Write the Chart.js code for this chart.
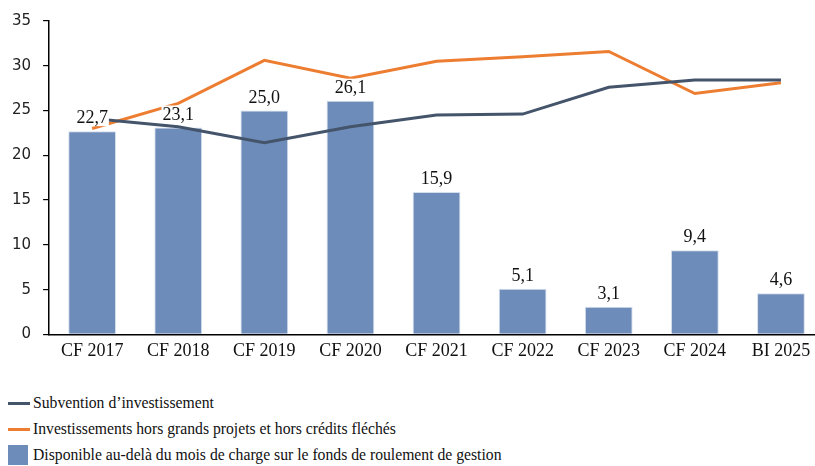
<!DOCTYPE html>
<html>
<head>
<meta charset="utf-8">
<script src="https://cdn.jsdelivr.net/npm/chart.js@4"></script>
<style>
  html, body { margin: 0; padding: 0; background: #fff; overflow: hidden; }
  #wrap { position: relative; width: 826px; height: 360px; }
  #legend { position: absolute; left: 8px; top: 390px; font-family: 'Liberation Serif', serif; font-size: 15.7px; color: #111; }
  .leg-item { display: flex; align-items: center; height: 26px; }
  .leg-line { width: 22px; height: 3px; margin-right: 3px; }
  .leg-box { width: 20px; height: 20px; margin-right: 5px; }
</style>
</head>
<body>
<div id="wrap"><canvas id="chart"></canvas></div>
<div id="legend"></div>
<script>
/* Subvention / investissements / disponible FRG — 2017 à 2025 */

const categories  = ['CF 2017', 'CF 2018', 'CF 2019', 'CF 2020', 'CF 2021', 'CF 2022', 'CF 2023', 'CF 2024', 'BI 2025'];
const subvention  = [24.1, 23.2, 21.4, 23.2, 24.5, 24.6, 27.6, 28.4, 28.4];
const investHors  = [23.0, 25.8, 30.6, 28.6, 30.5, 31.0, 31.6, 26.9, 28.1];
const disponible  = [22.7, 23.1, 25.0, 26.1, 15.9, 5.1, 3.1, 9.4, 4.6];
const yTicks      = { min: 0, max: 35, step: 5 };

const COL_DARK   = '#44546a';
const COL_ORANGE = '#ed7d31';
const COL_BAR    = '#6d8cba';

const fmt = v => v.toFixed(1).replace('.', ',');

// Value labels on bars, drawn last with a white backdrop
const barLabels = {
  id: 'barLabels',
  afterDatasetsDraw(chart) {
    const ctx  = chart.ctx;
    const meta = chart.getDatasetMeta(2);
    ctx.save();
    ctx.font         = '18px "Liberation Serif", serif';
    ctx.textAlign    = 'center';
    ctx.textBaseline = 'alphabetic';
    meta.data.forEach((bar, i) => {
      const txt = fmt(disponible[i]);
      const w   = ctx.measureText(txt).width;
      const y   = bar.y - 8;
      ctx.fillStyle = '#fff';
      ctx.fillRect(bar.x - w / 2 - 1, y - 14, w + 2, 17);
      ctx.fillStyle = '#111';
      ctx.fillText(txt, bar.x, y);
    });
    ctx.restore();
  }
};

const chart = new Chart(document.getElementById('chart'), {
  type: 'bar',
  data: {
    labels: categories,
    datasets: [
      {
        type:        'line',
        label:       'Subvention d\u2019investissement',
        data:        subvention,
        borderColor: COL_DARK,
        borderWidth: 3,
        pointRadius: 0,
        tension:     0,
        order:       1
      },
      {
        type:        'line',
        label:       'Investissements hors grands projets et hors crédits fléchés',
        data:        investHors,
        borderColor: COL_ORANGE,
        borderWidth: 3,
        pointRadius: 0,
        tension:     0,
        order:       2
      },
      {
        type:               'bar',
        label:              'Disponible au-delà du mois de charge sur le fonds de roulement de gestion',
        data:               disponible,
        backgroundColor:    COL_BAR,
        borderColor:        '#d4deec',
        borderWidth:        1,
        categoryPercentage: 1,
        barPercentage:      0.555,
        order:              3
      }
    ]
  },
  options: {
    responsive:          true,
    maintainAspectRatio: false,
    animation:           false,
    layout: { padding: { left: 0, right: 2, top: 17, bottom: 0 } },
    plugins: {
      legend:  { display: false },
      tooltip: { enabled: false }
    },
    scales: {
      x: {
        grid:   { display: false },
        border: { display: true, color: '#000', width: 1.5 },
        ticks:  { color: '#111', font: { family: 'Liberation Serif', size: 18 }, padding: -2, maxRotation: 0 }
      },
      y: {
        min: yTicks.min,
        max: yTicks.max,
        grid:   { drawOnChartArea: false, drawTicks: true, tickLength: 6, color: '#000', lineWidth: 1.2 },
        border: { display: true, color: '#000', width: 1.5 },
        ticks:  { stepSize: yTicks.step, color: '#222', font: { family: 'DejaVu Sans', size: 15 }, padding: 12 }
      }
    }
  },
  plugins: [barLabels]
});

// Stacked legend below the chart
const legendEl = document.getElementById('legend');
legendEl.innerHTML = chart.data.datasets.map(ds => {
  const mark = ds.type === 'line'
    ? `<span class="leg-line" style="background:${ds.borderColor}"></span>`
    : `<span class="leg-box" style="background:${ds.backgroundColor}"></span>`;
  return `<div class="leg-item">${mark}<span>${ds.label}</span></div>`;
}).join('');
</script>
</body>
</html>
